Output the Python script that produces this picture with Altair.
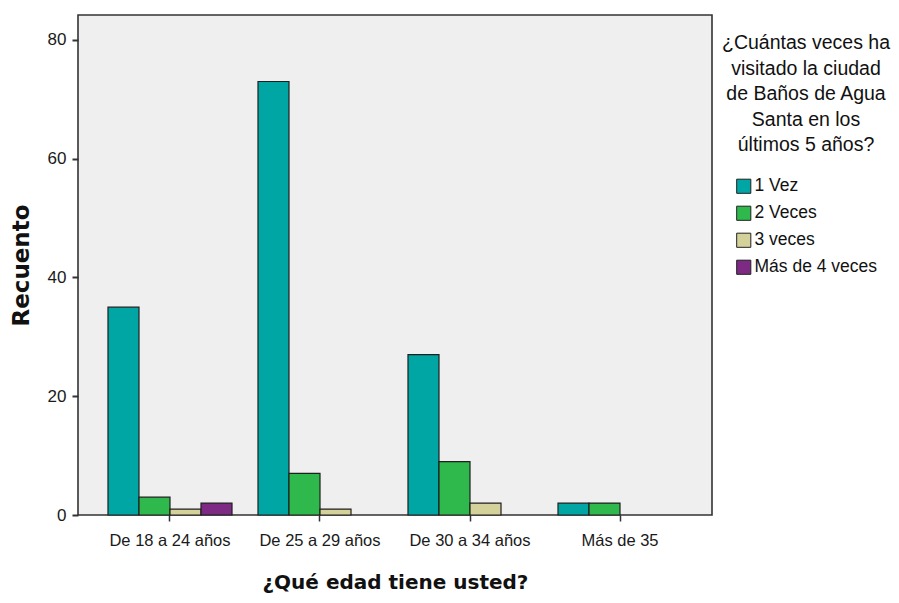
import altair as alt
import pandas as pd

# Age groups (x axis) and answer categories (colour / offset)
grupos = ["De 18 a 24 años", "De 25 a 29 años", "De 30 a 34 años", "Más de 35"]
visitas = ["1 Vez", "2 Veces", "3 veces", "Más de 4 veces"]

# Counts per answer, one value per age group
una_vez = [35, 73, 27, 2]
dos_veces = [3, 7, 9, 2]
tres_veces = [1, 1, 2, 0]
cuatro_o_mas = [2, 0, 0, 0]

colores = ["#00A6A4", "#2FB84B", "#D4D19A", "#7D2A85"]
y_ticks = [0, 20, 40, 60, 80]

rows = []
for visita, serie in zip(visitas, [una_vez, dos_veces, tres_veces, cuatro_o_mas]):
    for grupo, n in zip(grupos, serie):
        rows.append({"grupo": grupo, "visitas": visita, "recuento": n})
df = pd.DataFrame(rows)

sans = "Liberation Sans, Arial, sans-serif"
bold = "DejaVu Sans"

chart = (
    alt.Chart(df)
    .transform_filter("datum.recuento > 0")
    .mark_bar(stroke="#1f1f1f", strokeWidth=1.2)
    .encode(
        x=alt.X(
            "grupo:N",
            sort=grupos,
            scale=alt.Scale(domain=grupos, paddingInner=0, paddingOuter=0.1133),
            axis=alt.Axis(
                title="¿Qué edad tiene usted?",
                labelAngle=0,
                labelFont=sans,
                labelFontSize=16.5,
                labelColor="#1a1a1a",
                labelPadding=11,
                tickSize=6,
                tickWidth=1.5,
                tickColor="#333333",
                domain=False,
                titleFont=bold,
                titleFontSize=20,
                titleFontWeight="bold",
                titleColor="#111111",
                titlePadding=24,
            ),
        ),
        xOffset=alt.XOffset(
            "visitas:N",
            scale=alt.Scale(domain=visitas, paddingInner=0, paddingOuter=0.419),
        ),
        y=alt.Y(
            "recuento:Q",
            scale=alt.Scale(domain=[0, 84.2], nice=False, zero=True),
            axis=alt.Axis(
                title="Recuento",
                values=y_ticks,
                grid=False,
                domain=False,
                labelFont=sans,
                labelFontSize=17,
                labelColor="#1a1a1a",
                labelPadding=6,
                tickSize=6,
                tickWidth=2,
                tickColor="#333333",
                titleFont=bold,
                titleFontSize=23,
                titleFontWeight="bold",
                titleColor="#111111",
                titlePadding=14,
            ),
        ),
        color=alt.Color(
            "visitas:N",
            scale=alt.Scale(domain=visitas, range=colores),
            legend=alt.Legend(
                title=[
                    "¿Cuántas veces ha",
                    "visitado la ciudad",
                    "de Baños de Agua",
                    "Santa en los",
                    "últimos 5 años?",
                ],
                orient="none",
                legendX=644,
                legendY=19,
                padding=0,
                titleFont=sans,
                titleFontSize=19.5,
                titleFontWeight="normal",
                titleColor="#111111",
                titleAlign="center",
                titleAnchor="middle",
                titleLineHeight=25.5,
                titlePadding=22,
                titleLimit=300,
                labelFont=sans,
                labelFontSize=17.5,
                labelColor="#111111",
                labelOffset=2,
                labelLimit=300,
                symbolType="square",
                symbolSize=200,
                symbolStrokeColor="#222222",
                symbolStrokeWidth=1,
                symbolOpacity=1,
                rowPadding=8,
            ),
        ),
    )
    .properties(
        width=634,
        height=500,
        autosize="none",
        background="white",
        padding={"left": 78, "top": 15, "right": 187, "bottom": 88},
    )
    .configure_view(fill="#EFEFEF", stroke="#333333", strokeWidth=1.6)
)

chart.save("out.html", embed_options={"renderer": "svg", "actions": False})
